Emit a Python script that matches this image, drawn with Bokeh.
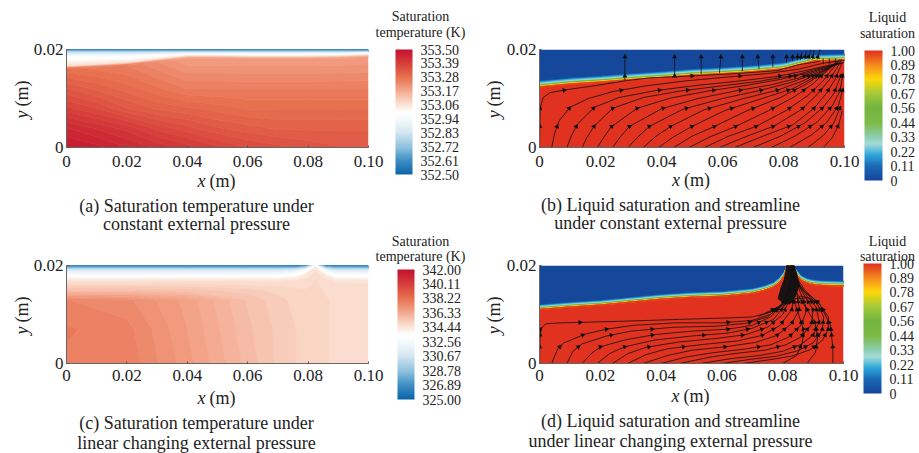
import math
import numpy as np
from bokeh.embed import file_html
from bokeh.resources import INLINE
from bokeh.plotting import figure
from bokeh.layouts import column, row
from bokeh.models import (Range1d, FixedTicker, Label, ColorBar, LinearColorMapper, AllLabels)

# ---------- shared tick labels ----------
X_TICKS = [0, 0.02, 0.04, 0.06, 0.08, 0.10]
X_TICK_LABELS = ["0", "0.02", "0.04", "0.06", "0.08", "0.10"]
Y_TICKS = [0, 0.02]
Y_TICK_LABELS = ["0", "0.02"]

# ---------- colour bars ----------
A_BAR_LABELS = ["352.50", "352.61", "352.72", "352.83", "352.94", "353.06", "353.17", "353.28", "353.39", "353.50"]
C_BAR_LABELS = ["325.00", "326.89", "328.78", "330.67", "332.56", "334.44", "336.33", "338.22", "340.11", "342.00"]
S_BAR_LABELS = ["0", "0.11", "0.22", "0.33", "0.44", "0.56", "0.67", "0.78", "0.89", "1.00"]
RB_STOPS = [0, .11, .22, .33, .44, .5, .56, .67, .78, .89, 1]
RB_COLORS = ["#0b64a8", "#3f8fc4", "#8fc2df", "#d2e6f1", "#f6fafc", "#ffffff", "#fbe3d6", "#f4a98f", "#e8704f", "#d63f3a", "#c4122f"]
JET_STOPS = [0, .11, .2, .28, .33, .44, .56, .67, .78, .89, 1]
JET_COLORS = ["#15479b", "#1a6ab5", "#2fa8dc", "#a4dbd8", "#8ecfb4", "#7dbb48", "#72b53e", "#a5c93a", "#fbd80a", "#f68a1e", "#e0321e"]

# ---------- panel (a): temperature table, x and y in mm ----------
A_X = [0, 10, 20, 30, 40, 50, 60, 70, 80, 90, 100]
A_INTERFACE = [16.1, 16.4, 16.8, 17.5, 18.2, 18.2, 18.1, 18.1, 18.1, 18.2, 18.4]
A_WHITE_TOP = [18.5, 18.6, 18.6, 18.8, 19.0, 19.0, 19.0, 19.0, 19.0, 19.0, 19.2]
A_Y_LOW = [0, 4, 8, 12]
A_Y_TOP = [19.5, 19.8, 20.0]
A_T_LOW = [
    [353.47, 353.46, 353.44, 353.42, 353.40, 353.38, 353.36, 353.35, 353.34, 353.33, 353.33],
    [353.44, 353.42, 353.40, 353.37, 353.35, 353.33, 353.32, 353.31, 353.31, 353.31, 353.31],
    [353.38, 353.36, 353.33, 353.31, 353.30, 353.29, 353.28, 353.28, 353.28, 353.28, 353.28],
    [353.33, 353.31, 353.29, 353.27, 353.25, 353.25, 353.25, 353.25, 353.25, 353.25, 353.25],
    [353.27, 353.26, 353.25, 353.22, 353.19, 353.19, 353.19, 353.19, 353.19, 353.19, 353.19],
]
A_T_BAND = [353.08, 352.97, 352.78, 352.58, 352.50]

# ---------- panel (b): liquid saturation ----------
B_X = [0, 10, 20, 28, 40, 50, 60, 70, 80, 85, 90, 100]
B_INTERFACE = [12.3, 12.9, 13.3, 13.7, 14.2, 14.7, 15.0, 15.4, 16.0, 16.8, 17.6, 17.8]
B_BAND_OFFSET = [0.2, 0.35, 0.6, 0.95, 1.3]
B_BAND_SAT = [0.75, 0.5, 0.3, 0.2, 0.0]
B_STREAMS = [
    [(0, 0), (0.1, 4), (0.2, 8), (1.2, 10.2), (3.5, 11.2), (9, 11.8), (18, 12.6), (28, 13.6), (36, 14.2), (50, 14.6), (65, 15.1), (78, 15.7), (85, 16.9), (92, 17.6)],
    [(4, 0), (5, 3), (6.5, 5.5), (10, 8.2), (16, 10), (24, 11.4), (35, 12.6), (48, 13.6), (62, 14.4), (75, 15.1), (85, 16), (93, 17.2), (100, 17.8)],
    [(9, 0), (10.5, 2.5), (12.5, 4.8), (18, 8.2), (26, 10.2), (38, 11.6), (52, 12.7), (66, 13.6), (78, 14.5), (88, 15.8), (95, 16.8), (100, 17.4)],
    [(14, 0), (15.5, 2), (18, 4.4), (24, 8), (34, 10.2), (46, 11.5), (60, 12.6), (72, 13.5), (84, 14.8), (92, 16.2), (99, 17.2)],
    [(19, 0), (21, 2), (23.5, 4.2), (32, 8), (43, 10.1), (56, 11.6), (68, 12.7), (79, 13.9), (88, 15.2), (95, 16.6), (99.5, 17.2)],
    [(24, 0), (26.5, 2.2), (29.5, 4.3), (40, 7.9), (52, 10), (64, 11.5), (76, 12.8), (85, 14.2), (92, 15.8), (98, 17)],
    [(29, 0), (32, 2), (36, 4.3), (47, 7.8), (60, 10), (72, 11.6), (82, 13.2), (90, 15), (96, 16.6)],
    [(34, 0), (38, 2.2), (43, 4.3), (54, 7.7), (67, 10), (78, 11.7), (86, 13.5), (93, 15.6), (97, 17)],
    [(39, 0), (44, 2.2), (50, 4.3), (61, 7.6), (73, 10), (83, 12), (90, 14.3), (95, 16.3), (98, 17.5)],
    [(44, 0), (50, 2.3), (57, 4.2), (68, 7.5), (79, 10.2), (87, 12.8), (93, 15.2), (97, 17.2)],
    [(49, 0), (56, 2.2), (64, 4.2), (75, 7.5), (84, 10.5), (90, 13.2), (94.5, 15.8), (98, 17.5)],
    [(54, 0), (62, 2.3), (71, 4.3), (81, 7.6), (88, 10.6), (93, 13.6), (96, 16), (98.5, 18)],
    [(59, 0), (68, 2.3), (77, 4.4), (86, 7.8), (91, 10.8), (95, 13.8), (97.5, 16.2), (99, 18)],
    [(64, 0), (74, 2.5), (83, 4.6), (90, 8), (94, 11), (97, 14), (99, 17)],
    [(70, 0), (79, 2.3), (87, 5), (93, 8.2), (96.5, 11), (99, 15)],
    [(76, 0), (84, 2.4), (91, 5.2), (96, 8.5), (98.5, 11.5), (99.5, 15)],
    [(82, 0), (89, 2.5), (94, 5), (98, 8.5), (99.5, 12)],
    [(88, 0), (93, 2.4), (96.5, 5), (98.8, 8.5)],
    [(93, 0), (96, 2), (98, 4.5), (99.3, 7.5)],
    [(28, 13.7), (28, 19)], [(44.3, 14.5), (44.3, 18.8)], [(53, 15), (53, 18.8)],
    [(59, 15.2), (59.5, 18.8)], [(66.5, 15.6), (66.5, 18.8)], [(72, 16), (71.5, 18.8)],
    [(76.5, 16.4), (76.5, 18.8)], [(81, 17.3), (81, 18.7)], [(83, 17.6), (83, 19)],
    [(84.5, 17.8), (84.7, 19.3)], [(85.5, 17.8), (86, 19.5)], [(87, 18), (87.5, 19.7)],
    [(88, 18), (89, 19.9)], [(89.5, 18), (90, 19.9)], [(91, 18), (92, 20)],
    [(93, 17), (93, 18.2)], [(95, 17), (95, 18.2)], [(97, 17), (97, 18.2)],
]
B_ARROW_ROWS = [4.3, 8.0, 11.7, 14.6, 18.5]

# ---------- panel (c): temperature table ----------
C_X = [0, 20, 40, 60, 70, 76, 79, 81, 82.5, 84, 86, 89, 100]
C_Y = [0, 7, 13, 15, 17, 18, 19, 19.5, 19.8, 20]
C_T = [
    [337.7, 337.7, 336.8, 335.8, 335.3, 335.1, 335.0, 334.95, 334.9, 334.9, 334.85, 334.8, 334.7],
    [337.8, 337.6, 336.7, 335.7, 335.3, 335.1, 335.0, 334.95, 334.9, 334.9, 334.85, 334.8, 334.7],
    [337.5, 337.3, 336.6, 335.6, 335.2, 335.0, 334.95, 334.9, 334.9, 334.85, 334.85, 334.8, 334.7],
    [335.6, 335.6, 335.5, 335.2, 335.0, 334.9, 334.85, 334.85, 334.85, 334.85, 334.8, 334.75, 334.7],
    [334.5, 334.5, 334.5, 334.5, 334.5, 334.6, 334.7, 334.8, 334.85, 334.8, 334.7, 334.5, 334.5],
    [333.0, 333.0, 333.0, 333.0, 333.0, 333.6, 334.3, 334.6, 334.7, 334.6, 334.2, 333.2, 333.0],
    [331.0, 331.0, 331.0, 331.0, 331.0, 331.5, 333.0, 334.3, 334.6, 334.2, 332.2, 331.0, 331.0],
    [328.5, 328.5, 328.5, 328.5, 328.5, 328.6, 330.0, 333.0, 334.5, 332.8, 329.5, 328.6, 328.5],
    [326.5, 326.5, 326.5, 326.5, 326.5, 326.6, 327.5, 331.0, 334.3, 330.5, 327.0, 326.6, 326.5],
    [325.0, 325.0, 325.0, 325.0, 325.0, 325.0, 326.0, 329.0, 334.0, 328.0, 325.5, 325.0, 325.0],
]

# ---------- panel (d): liquid saturation ----------
D_X = [0, 10, 20, 30, 40, 50, 60, 65, 70, 74, 77, 79, 80.5, 81.5, 83.5, 84.5, 86, 88, 90, 93, 100]
D_INTERFACE = [11.0, 11.5, 11.9, 12.5, 13.1, 13.5, 13.7, 14.0, 14.3, 14.9, 15.6, 16.6, 17.8, 20.0, 20.0, 18.2, 17.0, 16.4, 16.1, 15.9, 15.8]
D_BAND_OFFSET = [0.12, 0.25, 0.45, 0.7, 1.0]
D_BAND_SAT = [0.75, 0.5, 0.3, 0.2, 0.0]
D_STREAMS = [
    [(0, 0), (0.1, 4), (0.3, 7), (2, 8.1), (7, 8.3), (26, 8.6), (46, 9), (62, 9.3), (70, 9.5), (76, 10.5), (82, 13), (83, 17), (83, 20)],
    [(4, 0), (6, 3), (8, 4.2), (15, 6), (22, 7), (31, 7.8), (45, 8.3), (60, 8.3), (70, 8.8), (76, 10), (81, 13), (83, 18), (83, 20)],
    [(9, 0), (11, 2.5), (14, 4), (22, 5.6), (30, 6.6), (44, 7.4), (58, 7.6), (68, 8.2), (75, 9.5), (80, 12.2), (82.5, 16), (83, 20)],
    [(14, 0), (17, 2), (20, 3.4), (28, 4.8), (38, 5.9), (50, 6.6), (62, 7), (70, 7.8), (76, 9.5), (80.5, 12.5), (83, 18)],
    [(19, 0), (23, 2), (28, 3.4), (38, 4.8), (50, 5.6), (62, 6.2), (70, 7.2), (77, 9), (81.5, 12.5), (83, 18)],
    [(24, 0), (29, 2), (35, 3.3), (46, 4.4), (58, 5.1), (68, 5.9), (75, 7.4), (80, 10), (83, 14), (83.5, 20)],
    [(29, 0), (35, 1.8), (42, 3), (54, 3.9), (65, 4.6), (73, 5.7), (79, 7.7), (83, 11), (84, 15), (83.5, 20)],
    [(34, 0), (42, 1.6), (50, 2.7), (61, 3.4), (71, 4.3), (78, 5.7), (83, 8.2), (85.5, 11), (84.5, 15), (83, 20)],
    [(40, 0), (48, 1.3), (57, 2.2), (67, 2.9), (76, 3.8), (82, 5.4), (86, 7.8), (88, 11), (85.5, 15), (83, 20)],
    [(46, 0), (56, 1.3), (65, 2.1), (74, 2.7), (81, 3.8), (86, 5.4), (89.5, 8), (90, 11), (86.5, 14.5), (83.5, 18)],
    [(53, 0), (63, 1), (72, 1.6), (80, 2.5), (86, 3.9), (90, 5.8), (92, 8.5), (91, 11.5), (87, 14.5), (83.5, 18)],
    [(60, 0), (70, 0.9), (78, 1.5), (85, 2.6), (90, 4.2), (93, 6.8), (93.5, 9.5), (91.5, 12), (87, 14.8), (83.5, 18)],
    [(67, 0), (76, 0.8), (83, 1.5), (89, 2.8), (93, 4.7), (95, 7), (95, 9.5), (92, 12.2), (87.5, 14.8), (84, 18)],
    [(96.5, 0), (96.5, 3.2), (95.7, 7.9), (92, 12.3), (86, 15.3), (83.5, 18)],
    [(88, 0), (90.8, 2.3), (91.5, 5.5), (90.5, 8.5), (87, 12), (84, 15)],
    [(80, 0), (84.5, 1.6), (86.5, 4.2), (86.8, 7), (85, 10.5), (83, 14)],
    [(74, 10.2), (80, 12), (86, 13.8), (90, 13)],
    [(72, 9.6), (78, 11), (84, 13.2), (88, 13.4)],
]
D_ARROW_ROWS = [3.4, 5.8, 7.0, 8.4, 11.0, 12.6]
D_PLUME_X = [81.3, 83.8, 84.5, 85.5, 84.0, 81.0, 78.5, 79.5, 80.5, 81.0]
D_PLUME_Y = [20.0, 20.0, 18.5, 16.0, 13.5, 12.2, 13.2, 15.5, 17.0, 18.5]

FONT = "Liberation Serif"
TEXT = "#222222"


def ramp(stops, colors, n):
    rgb = np.array([[int(c[i:i + 2], 16) for i in (1, 3, 5)] for c in colors], dtype=float)
    t = np.linspace(0, 1, n)
    out = np.column_stack([np.interp(t, stops, rgb[:, k]) for k in range(3)])
    return ["#%02x%02x%02x" % tuple(int(round(v)) for v in c) for c in out]


def base_fig(w, h, left, right, top, bottom, standoff):
    p = figure(width=w, height=h, x_range=Range1d(0, 0.1), y_range=Range1d(0, 0.02),
               min_border_left=left, min_border_right=right, min_border_top=top, min_border_bottom=bottom,
               toolbar_location=None, output_backend="svg", tools="", background_fill_color="white")
    p.grid.visible = False
    p.outline_line_color = None
    for ax, ticks, labels in ((p.xaxis[0], X_TICKS, X_TICK_LABELS), (p.yaxis[0], Y_TICKS, Y_TICK_LABELS)):
        ax.ticker = FixedTicker(ticks=ticks)
        ax.major_label_overrides = dict(zip(ticks, labels))
        ax.major_label_text_font = FONT
        ax.major_label_text_font_size = "17px"
        ax.major_label_text_color = TEXT
        ax.major_tick_in = 2
        ax.major_tick_out = 0
        ax.minor_tick_line_color = None
        ax.major_tick_line_color = "#555555"
        ax.axis_line_color = "#666666"
        ax.major_label_standoff = 3
    p.xaxis[0].major_label_standoff = standoff
    return p


def put(p, geom, side, px, py, text, size=14, style="normal", align="center", angle=0.0, baseline="middle"):
    """geom = (frame_left_px, frame_right_px, frame_top_px, frame_bottom_px) in page pixels."""
    fl, fr, ft, fb = geom
    p.add_layout(Label(x=(px - fl) / (fr - fl) * 0.1, y=(fb - py) / (fb - ft) * 0.02, text=text,
                       text_font=FONT, text_font_size=f"{size}px", text_font_style=style,
                       text_color=TEXT, text_align=align, text_baseline=baseline, angle=angle), side)


def decorate(p, geom, xlab_side, xlab_y, ylab_x, cap_x, cap_y, caps, title_x, title_ys, titles):
    fl, fr, ft, fb = geom
    mid = (fl + fr) / 2
    put(p, geom, "left", mid - 20, xlab_y, "x", 18, "italic", align="left")
    put(p, geom, xlab_side, mid - 8, xlab_y, "(m)", 18, align="left")
    ymid = (ft + fb) / 2
    put(p, geom, "left", ylab_x, ymid + 20, "y", 18, "italic", align="left", angle=math.pi / 2)
    put(p, geom, "right", ylab_x, ymid + 8, "(m)", 18, align="left", angle=math.pi / 2)
    for cy, c in zip(cap_y, caps):
        put(p, geom, "below", cap_x, cy, c, 18)
    put(p, geom, "right", title_x, title_ys[0], titles[0], 14)
    put(p, geom, "above", title_x, title_ys[1], titles[1], 14)


def colorbar(p, geom, low, high, palette, labels, bar_left, bar_top, bar_h, bar_w):
    fl, fr, ft, fb = geom
    ticks = list(np.linspace(low, high, 10))
    cb = ColorBar(color_mapper=LinearColorMapper(palette=palette, low=low, high=high),
                  ticker=FixedTicker(ticks=ticks), major_label_policy=AllLabels(),
                  major_label_overrides=dict(zip(ticks, labels)),
                  width=bar_w, height=bar_h, padding=0, margin=0,
                  location=(bar_left - fl, fb - (bar_top + bar_h)),
                  major_tick_line_color=None, minor_tick_line_color=None, bar_line_color=None,
                  major_label_text_font=FONT, major_label_text_font_size="14px",
                  major_label_text_color=TEXT, label_standoff=8, background_fill_color=None, border_line_color=None)
    p.add_layout(cb)


def draw_field(p, X, Y, Z, low, high, stops, colors, nlev=64):
    eps = (high - low) * 1e-3
    levels = np.linspace(low - eps, high + eps, nlev + 1)
    p.contour(np.array(X) / 1000, np.array(Y) / 1000, np.array(Z, dtype=float), levels,
              fill_color=ramp(stops, colors, nlev), line_color=ramp(stops, colors, nlev + 1), line_width=1)


def saturation_mesh(xs, h, offsets, sats):
    X = np.array(xs, dtype=float)
    H = np.array(h, dtype=float)
    rows_y = [0 * H, H] + [np.minimum(H + o, 20.0) for o in offsets] + [0 * H + 20.0]
    rows_s = [1.0, 1.0] + list(sats) + [0.0]
    Y = np.vstack(rows_y)
    Z = np.vstack([0 * H + s for s in rows_s])
    return np.tile(X, (len(rows_y), 1)), Y, Z


def streams(p, lines, rows, geom):
    fl, fr, ft, fb = geom
    sx, sy = (fr - fl) / 100, (fb - ft) / 20
    p.multi_line([[a / 1000 for a, _ in l] for l in lines], [[b / 1000 for _, b in l] for l in lines],
                 line_color="#111111", line_width=0.8)
    ax, ay, ang = [], [], []
    for l in lines:
        for r in rows:
            for (x0, y0), (x1, y1) in zip(l[:-1], l[1:]):
                if y0 <= r < y1 or y1 <= r < y0:
                    f = (r - y0) / (y1 - y0)
                    ax.append((x0 + f * (x1 - x0)) / 1000)
                    ay.append(r / 1000)
                    ang.append(math.atan2((y1 - y0) * sy, (x1 - x0) * sx) - math.pi / 2)
                    break
    p.scatter(ax, ay, marker="triangle", size=5, angle=ang, angle_units="rad",
              fill_color="#111111", line_color=None)


G_A = (66, 368, 49, 147)
G_B = (539, 844, 48, 147)
G_C = (66, 368, 265, 363)
G_D = (539, 843, 265, 364)

# panel a
pa = base_fig(468, 234, 66, 100, 49, 87, 8)
ax_arr = np.array(A_INTERFACE)
a_y = [np.full(11, v, dtype=float) for v in A_Y_LOW] + [ax_arr, ax_arr + 0.4, np.array(A_WHITE_TOP)] + [np.full(11, v) for v in A_Y_TOP]
a_z = [np.array(r) for r in A_T_LOW] + [np.full(11, v) for v in A_T_BAND]
draw_field(pa, np.tile(A_X, (len(a_y), 1)), np.vstack(a_y), np.vstack(a_z), 352.5, 353.5, RB_STOPS, RB_COLORS)
colorbar(pa, G_A, 352.5, 353.5, ramp(RB_STOPS, RB_COLORS, 256), A_BAR_LABELS, 395, 49, 125, 17)
decorate(pa, G_A, "above", 180, 21, 196, [205, 223.5], ["(a) Saturation temperature under", "constant external pressure"],
         420, [16, 32], ["Saturation", "temperature (K)"])

# panel b
pb = base_fig(451, 234, 71, 75, 48, 87, 8)
bx, by, bz = saturation_mesh(B_X, B_INTERFACE, B_BAND_OFFSET, B_BAND_SAT)
draw_field(pb, bx, by, bz, 0, 1, JET_STOPS, JET_COLORS)
streams(pb, B_STREAMS, B_ARROW_ROWS, G_B)
colorbar(pb, G_B, 0, 1, ramp(JET_STOPS, JET_COLORS, 256), S_BAR_LABELS, 864, 50, 130, 18)
decorate(pb, G_B, "above", 180, 493, 670, [205, 223.5], ["(b) Liquid saturation and streamline", "under constant external pressure"],
         887, [16, 32], ["Liquid", "saturation"])

# panel c
pc = base_fig(468, 219, 66, 100, 31, 90, 6)
draw_field(pc, np.tile(C_X, (len(C_Y), 1)), np.tile(np.array(C_Y)[:, None], (1, len(C_X))), C_T, 325, 342, RB_STOPS, RB_COLORS)
colorbar(pc, G_C, 325, 342, ramp(RB_STOPS, RB_COLORS, 256), C_BAR_LABELS, 397, 269, 130, 17)
decorate(pc, G_C, "below", 397, 21, 196, [422, 442], ["(c) Saturation temperature under", "linear changing external pressure"],
         420, [241, 255.5], ["Saturation", "temperature (K)"])

# panel d
pd = base_fig(451, 219, 71, 76, 31, 89, 6)
dx, dy, dz = saturation_mesh(D_X, D_INTERFACE, D_BAND_OFFSET, D_BAND_SAT)
draw_field(pd, dx, dy, dz, 0, 1, JET_STOPS, JET_COLORS)
streams(pd, D_STREAMS, D_ARROW_ROWS, G_D)
pd.patch(np.array(D_PLUME_X) / 1000, np.array(D_PLUME_Y) / 1000, fill_color="#111111", line_color="#111111", fill_alpha=0.95)
colorbar(pd, G_D, 0, 1, ramp(JET_STOPS, JET_COLORS, 256), S_BAR_LABELS, 863, 264, 130, 18)
decorate(pd, G_D, "below", 397, 493, 670, [422, 442], ["(d) Liquid saturation and streamline", "under linear changing external pressure"],
         887, [241, 255.5], ["Liquid", "saturation"])

layout = column(row(pa, pb, spacing=0), row(pc, pd, spacing=0), spacing=0)
open("out.html", "w").write(file_html(layout, INLINE))
